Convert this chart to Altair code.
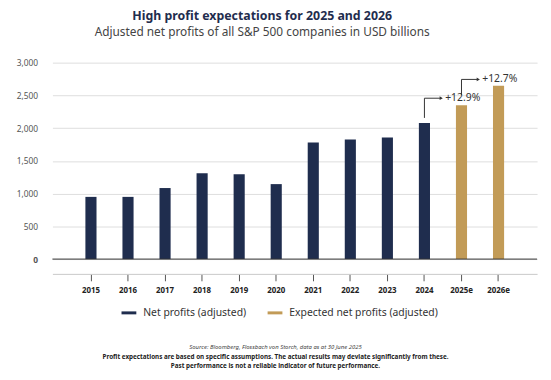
import altair as alt
import pandas as pd

years = ["2015", "2016", "2017", "2018", "2019", "2020", "2021", "2022", "2023", "2024", "2025e", "2026e"]
profits = [950, 950, 1085, 1310, 1295, 1145, 1780, 1825, 1855, 2080, 2348, 2646]
series = ["Net profits (adjusted)"] * 10 + ["Expected net profits (adjusted)"] * 2
series_names = ["Net profits (adjusted)", "Expected net profits (adjusted)"]
series_colors = ["#1f2d4e", "#c29b57"]
y_ticks = [0, 500, 1000, 1500, 2000, 2500, 3000]

ann_year = ["2024", "2025e"]
ann_low = [2156, 2503]
ann_high = [2457, 2744]
ann_text = ["+12.9%", "+12.7%"]

footer_lines = [
    "Source: Bloomberg, Flossbach von Storch, data as at 30 June 2025",
    "Profit expectations are based on specific assumptions. The actual results may deviate significantly from these.",
    "Past performance is not a reliable indicator of future performance.",
]

FONT = "Noto Sans"

df = pd.DataFrame({"year": years, "value": profits, "type": series})
ann = pd.DataFrame({"year": ann_year, "low": ann_low, "high": ann_high, "label": ann_text})

xscale = alt.Scale(paddingInner=0.7, paddingOuter=0.89)
yscale = alt.Scale(domain=[0, 3000])
xaxis = alt.Axis(title=None, labelAngle=0, offset=15, domainColor="#c8c8c8",
                 tickColor="#555555", tickSize=7, labelFontWeight="bold",
                 labelFontSize=8, labelColor="#222222", labelPadding=6, grid=False)
yaxis = alt.Axis(title=None, values=y_ticks, labelExpr="format(datum.value, ',')",
                 grid=True, gridColor="#dddddd", domain=False, ticks=False,
                 labelPadding=15, labelFontSize=8.5, labelColor="#555555",
                 labelFontWeight={"condition": {"test": "datum.value == 0", "value": "bold"},
                                  "value": "normal"})


def X():
    return alt.X("year:N", sort=years, scale=xscale, axis=xaxis)


def Y(field):
    return alt.Y(field, scale=yscale, axis=yaxis)


bars = alt.Chart(df).mark_bar().encode(
    x=X(),
    y=Y("value:Q"),
    color=alt.Color("type:N", scale=alt.Scale(domain=series_names, range=series_colors),
                    legend=alt.Legend(title=None, orient="none", legendX=70, legendY=246,
                                      direction="horizontal", symbolType="M-1,-0.2H1V0.2H-1Z",
                                      symbolSize=225, labelFontSize=10.5, labelColor="#333333",
                                      labelFont=FONT, columnPadding=21, labelOffset=7,
                                      labelLimit=300, symbolStrokeWidth=0)),
)

zero = alt.Chart(pd.DataFrame({"z": [0]})).mark_rule(color="#333333", strokeWidth=1).encode(
    y=Y("z:Q")
)

vlines = alt.Chart(ann).mark_rule(color="#333333", strokeWidth=1).encode(
    x=X(), y=Y("low:Q"), y2="high:Q"
)
hlines = alt.Chart(ann).mark_rule(color="#333333", strokeWidth=1, x2Offset=17).encode(
    x=X(), x2="year:N", y=Y("high:Q")
)
heads = alt.Chart(ann).mark_point(shape="triangle-right", filled=True, color="#333333",
                                  size=14, xOffset=17, opacity=1).encode(
    x=X(), y=Y("high:Q")
)
labels = alt.Chart(ann).mark_text(align="left", baseline="middle", dx=21, fontSize=10.5,
                                  color="#333333", font=FONT).encode(
    x=X(), y=Y("high:Q"), text="label:N"
)

f1 = alt.Chart(pd.DataFrame({"t": [footer_lines[0]]})).mark_text(
    fontSize=6, fontStyle="italic", color="#444444", font=FONT, baseline="middle"
).encode(x=alt.value(226), y=alt.value(288), text="t:N")
f2 = alt.Chart(pd.DataFrame({"t": [footer_lines[1]]})).mark_text(
    fontSize=6.4, fontWeight="bold", color="#222222", font=FONT, baseline="middle"
).encode(x=alt.value(226), y=alt.value(298), text="t:N")
f3 = alt.Chart(pd.DataFrame({"t": [footer_lines[2]]})).mark_text(
    fontSize=6.4, fontWeight="bold", color="#222222", font=FONT, baseline="middle"
).encode(x=alt.value(226), y=alt.value(307), text="t:N")

chart = alt.layer(bars, zero, vlines, hlines, heads, labels, f1, f2, f3).properties(
    width=491, height=199,
    padding={"left": 45, "top": 53, "right": 6, "bottom": 110},
    autosize=alt.AutoSizeParams(type="none"),
    title=alt.TitleParams(
        text="High profit expectations for 2025 and 2026",
        subtitle="Adjusted net profits of all S&P 500 companies in USD billions",
        anchor="middle", dx=-33, offset=21, fontSize=12.5, fontWeight="bold",
        color="#1f2d4e", font=FONT, subtitleFontSize=12, subtitleColor="#444444",
        subtitleFont=FONT, subtitlePadding=5,
    ),
).configure_view(stroke=None).configure_axis(labelFont=FONT)

chart.save("out.html", embed_options={"renderer": "svg", "actions": False})
